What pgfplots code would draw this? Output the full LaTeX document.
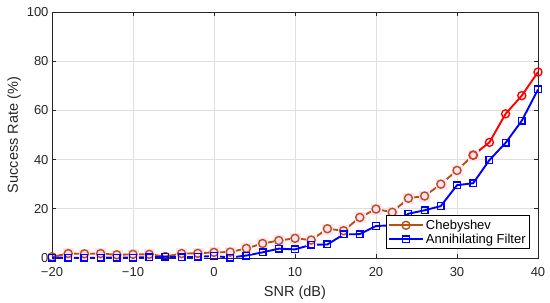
\documentclass[border=0pt]{standalone}
\usepackage{pgfplots}
\pgfplotsset{compat=1.18}
\usepackage{fontspec}
\setmainfont{Liberation Sans}
\definecolor{cheb}{RGB}{185,80,18}
\definecolor{axc}{RGB}{38,38,38}
\definecolor{halo}{RGB}{255,224,245}
\begin{document}
\begin{tikzpicture}[x=1pt,y=1pt]
\path[use as bounding box] (-52,-45) rectangle (498,258);
\begin{axis}[
  at={(0,0)}, anchor=south west,
  scale only axis, width=486pt, height=246pt,
  xmin=-20, xmax=40, ymin=0, ymax=100,
  xtick={-20,-10,...,40}, ytick={0,20,...,100},
  xticklabels={−20,−10,0,10,20,30,40},
  tick align=inside, tick pos=both,
  major tick length=4pt,
  grid=major, major grid style={gray!25, line width=0.6pt},
  axis line style={axc, line width=0.7pt},
  tick style={axc, line width=0.6pt},
  ticklabel style={font=\fontsize{13}{15}\selectfont, text=axc},
  xticklabel style={anchor=center, yshift=-14.5pt},
  /pgf/number format/assume math mode=true,
  xlabel={SNR (dB)}, ylabel={Success Rate (\%)},
  label style={font=\fontsize{14.5}{16}\selectfont, text=axc},
  xlabel style={at={(0.5,0)}, anchor=center, yshift=-35pt},
  ylabel style={yshift=-1pt},
  clip=false,
  legend image code/.code={
    \draw[#1] (0pt,0pt) -- (34pt,0pt);
    \draw[#1, only marks] plot coordinates {(17pt,0pt)};},
  legend style={at={(1,0)}, anchor=south east, xshift=-8pt, yshift=9pt,
    draw=black, line width=0.7pt,
    font=\fontsize{13}{15}\selectfont, inner sep=2pt, row sep=-1pt,
    cells={anchor=west}},
  legend cell align=left,
]
\addplot[forget plot, halo, only marks, mark=square*, mark size=5pt, mark options={fill=halo, draw=halo}]
coordinates {(-18,1.8)(-16,1.7)(-14,1.8)(-12,1.3)(-10,1.5)(-8,1.5)(-4,1.8)(-2,1.9)(0,2.3)(2,2.4)(4,3.9)(6,5.9)(8,7.1)(10,8.0)(12,7.3)(14,11.9)(16,11.1)(18,16.5)(20,19.9)(22,18.6)(24,24.3)(26,25.2)(28,30.0)(30,35.6)(32,41.8)};
\addplot[forget plot, red, line width=1.9pt, mark=o, mark size=4pt, mark options={line width=1.4pt}]
coordinates {(32,41.8)(34,47.0)(36,58.6)(38,66.0)(40,75.6)};
\addplot[cheb, line width=1.9pt, mark=o, mark size=4pt, mark options={line width=1.4pt}]
coordinates {(-20,0.5)(-18,1.8)(-16,1.7)(-14,1.8)(-12,1.3)(-10,1.5)(-8,1.5)(-6,0.6)(-4,1.8)(-2,1.9)(0,2.3)(2,2.4)(4,3.9)(6,5.9)(8,7.1)(10,8.0)(12,7.3)(14,11.9)(16,11.1)(18,16.5)(20,19.9)(22,18.6)(24,24.3)(26,25.2)(28,30.0)(30,35.6)(32,41.8)};
\addlegendentry{Chebyshev}
\addplot[blue, line width=1.9pt, mark=square, mark size=3.3pt, mark options={line width=1.4pt}]
coordinates {(-20,0.2)(-18,0.1)(-16,0.1)(-14,0.1)(-12,0.2)(-10,0.2)(-8,0.3)(-6,0.5)(-4,0.3)(-2,0.5)(0,0.8)(2,0.2)(4,1.0)(6,2.3)(8,3.8)(10,3.5)(12,5.4)(14,5.5)(16,9.6)(18,9.7)(20,13.0)(22,13.3)(24,18.0)(26,19.4)(28,21.1)(30,29.6)(32,30.4)(34,39.8)(36,46.8)(38,55.8)(40,68.5)};
\addlegendentry{Annihilating Filter}
\end{axis}
\end{tikzpicture}
\end{document}
